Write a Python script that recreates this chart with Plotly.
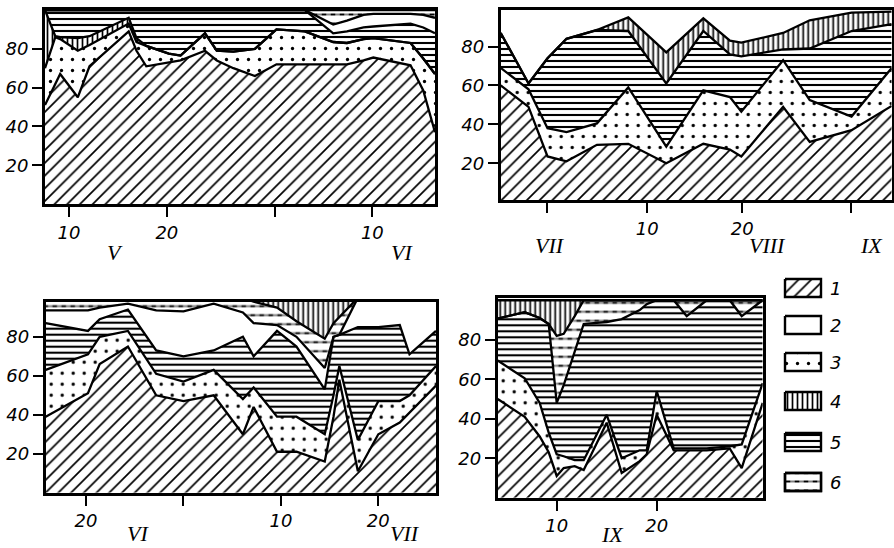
import plotly.graph_objects as go

W, H = 894, 548

# ---------------- DATA (cumulative upper boundary of each layer, %) ----------------
# Panel 1: May - June (day number, 1 VI = 32)
P1_DAYS = [7.55, 8.6, 9.1, 10.9, 12.1, 16.1, 16.9, 17.9, 20.2, 21.4, 23.9, 25.1, 26.8, 29.0,
           31.2, 34.1, 37.0, 38.4, 40.1, 41.1, 44.9, 46.2, 47.4]
P1_CUM1 = [51, 62, 67, 55, 71, 89, 79, 71, 73, 74, 79, 74, 70, 66, 72, 72, 72, 72, 74, 75.5, 71.5, 58.5, 37]
P1_CUM3 = [70, 86, 85, 79, 82, 93, 83.5, 81.5, 77.5, 76.5, 88, 79, 78.5, 80, 90, 89, 83.5, 83, 85, 85.5, 83, 75, 67]
P1_CUM4 = [100, 86.5, 86, 85.5, 86.5, 96, 85.5, 81.5, 77.5, 76.5, 88, 79, 78.5, 80, 90, 89, 83.5, 83, 85, 85.5, 83, 75, 67]
P1_CUM5 = [100, 100, 100, 100, 100, 100, 100, 100, 100, 100, 100, 100, 100, 100, 100, 100,
           88, 89, 91, 91.5, 93, 91, 88]
P1_CUM2 = [100, 100, 100, 100, 100, 100, 100, 100, 100, 100, 100, 100, 100, 100, 100, 100,
           92.5, 94.5, 97.5, 98, 98, 97.5, 96]
P1_CUM6 = [100, 100, 100, 100, 100, 100, 100, 100, 100, 100, 100, 100, 100, 100, 100, 100,
           100, 100, 100, 100, 100, 100, 100]

# Panel 2: late July - early September (day of August)
P2_DAYS = [-5.43, -2.5, -0.5, 1.5, 4.7, 8.0, 12.0, 15.9, 18.7, 19.9, 24.3, 27.1, 31.5, 35.73]
P2_CUM1 = [60, 49, 23.5, 21, 29.5, 30, 20, 30, 27, 23.5, 49, 31, 37, 49.5]
P2_CUM3 = [69, 58, 38, 36, 40.5, 59, 28.5, 57.5, 54, 46.5, 73, 52.5, 44, 69]
P2_CUM5 = [87, 61, 74, 84, 88.5, 88, 61, 88, 76, 75, 78.5, 79, 88, 91.5]
P2_CUM4 = [87, 61, 74, 84, 88.5, 95, 77, 94.5, 83, 82, 87, 93.5, 97.5, 98]
P2_CUM2 = [100, 100, 100, 100, 100, 100, 100, 100, 100, 100, 100, 100, 100, 100]

# Panel 3: June - July (day number, 1 VII = 31)
P3_DAYS = [15.86, 20.2, 21.4, 24.3, 27.2, 30.0, 33.1, 36.1, 37.2, 39.6, 41.6, 44.5, 45.4, 46.0,
           47.9, 50.0, 52.2, 53.2, 55.92]
P3_CUM1 = [39, 51, 66, 75, 50, 47, 50, 30, 44, 21, 21, 16, 39, 58, 11, 30, 36, 41, 55]
P3_CUM3 = [63, 71, 80, 83, 61, 57, 63, 48, 54, 39, 39, 30, 50, 65, 27, 47, 47, 50, 65]
P3_CUM5 = [87, 83, 89, 94, 73, 70, 73, 80, 70, 83, 75, 53, 80, 81, 85, 85, 86, 71, 83]
P3_CUM2 = [93.5, 93.5, 95, 97, 93.5, 93, 97, 92.5, 87, 86, 80, 64, 80, 81, 100, 100, 100, 100, 100]
P3_CUM6 = [100, 100, 100, 100, 100, 100, 100, 100, 98, 95, 88, 79, 87, 90, 100, 100, 100, 100, 100]
P3_CUM4 = [100, 100, 100, 100, 100, 100, 100, 100, 100, 100, 100, 100, 100, 100, 100, 100, 100, 100, 100]

# Panel 4: September (day of September)
P4_DAYS = [4.1, 6.8, 8.3, 9.2, 10.0, 10.7, 11.8, 12.7, 15.0, 16.5, 18.3, 19.0, 20.0, 21.7,
           23.0, 25.0, 27.3, 28.5, 30.6]
P4_CUM1 = [50, 41, 31, 23, 11, 15, 16, 14, 38, 12.5, 18.5, 22, 42, 24, 24, 24, 25, 15, 48]
P4_CUM3 = [69.5, 60.5, 48, 33, 22, 21, 19, 19, 42, 20, 24, 24, 54, 25, 25, 25, 26, 27, 58]
P4_CUM5 = [90.7, 94, 91, 88, 48, 57, 74, 88, 89, 90.5, 95, 98, 100, 100, 92, 100, 100, 92, 100]
P4_CUM6 = [90.7, 94, 91, 88, 82, 83, 92, 100, 100, 100, 100, 100, 100, 100, 100, 100, 100, 100, 100]
P4_CUM4 = [100, 100, 100, 100, 100, 100, 100, 100, 100, 100, 100, 100, 100, 100, 100, 100, 100, 100, 100]

Y_TICKS = [20, 40, 60, 80]
Y_TICK_TEXT = ["20", "40", "60", "80"]

P1_XTICKS, P1_XTEXT = [10, 20, 31, 41], ["10", "20", "", "10"]
P2_XTICKS, P2_XTEXT = [-0.6, 10, 20, 31.4], ["", "10", "20", ""]
P3_XTICKS, P3_XTEXT = [20, 30, 40, 50], ["20", "", "10", "20"]
P4_XTICKS, P4_XTEXT = [10, 20], ["10", "20"]

P1_MONTHS = [("V", 14.7), ("VI", 44.0)]
P2_MONTHS = [("VII", -0.24), ("VIII", 22.7), ("IX", 33.65)]
P3_MONTHS = [("VI", 25.3), ("VII", 52.7)]
P4_MONTHS = [("IX", 15.6)]

LEGEND_KEYS = ["1", "2", "3", "4", "5", "6"]

# ---------------- STYLE ----------------
PATTERN = {
    "1": dict(shape="/", size=9, solidity=0.19),
    "2": dict(shape=""),
    "3": dict(shape=".", size=11, solidity=0.07),
    "4": dict(shape="|", size=5, solidity=0.34),
    "5": dict(shape="-", size=6, solidity=0.35),
    "6": dict(shape="-", size=9, solidity=0.22),
}
DASH_CUT = dict(shape="|", size=9, solidity=0.5, fgcolor="white", bgcolor="rgba(0,0,0,0)")

TICK_FONT = dict(family="DejaVu Sans", size=18, color="black", style="italic")
MONTH_FONT = dict(family="Liberation Serif", size=22, color="black", style="italic")

def pat(key):
    p = dict(PATTERN[key])
    p.update(fgcolor="black", bgcolor="white", fillmode="replace")
    return p

fig = go.Figure()

def add_panel(i, days, stack):
    xa, ya = ("x", "y") if i == 1 else (f"x{i}", f"y{i}")
    prev = None
    for k, (key, vals) in enumerate(stack):
        fig.add_trace(go.Scatter(
            x=days, y=vals, mode="lines", line=dict(width=0, color="black"),
            fill="tozeroy" if k == 0 else "tonexty", fillcolor="white",
            fillpattern=pat(key), xaxis=xa, yaxis=ya, hoverinfo="skip"))
        if key == "6":
            fig.add_trace(go.Scatter(x=days, y=prev, mode="lines", line=dict(width=0),
                                     xaxis=xa, yaxis=ya, hoverinfo="skip"))
            fig.add_trace(go.Scatter(x=days, y=vals, mode="lines", line=dict(width=0),
                                     fill="tonexty", fillcolor="rgba(0,0,0,0)",
                                     fillpattern=DASH_CUT, xaxis=xa, yaxis=ya, hoverinfo="skip"))
        prev = vals
    for key, vals in stack:
        fig.add_trace(go.Scatter(x=days, y=vals, mode="lines",
                                 line=dict(width=2.3, color="black"),
                                 xaxis=xa, yaxis=ya, hoverinfo="skip"))

add_panel(1, P1_DAYS, [("1", P1_CUM1), ("3", P1_CUM3), ("4", P1_CUM4), ("5", P1_CUM5),
                       ("2", P1_CUM2), ("6", P1_CUM6)])
add_panel(2, P2_DAYS, [("1", P2_CUM1), ("3", P2_CUM3), ("5", P2_CUM5), ("4", P2_CUM4),
                       ("2", P2_CUM2)])
add_panel(3, P3_DAYS, [("1", P3_CUM1), ("3", P3_CUM3), ("5", P3_CUM5), ("2", P3_CUM2),
                       ("6", P3_CUM6), ("4", P3_CUM4)])
add_panel(4, P4_DAYS, [("1", P4_CUM1), ("3", P4_CUM3), ("5", P4_CUM5), ("6", P4_CUM6),
                       ("4", P4_CUM4)])

# panel geometry (pixels: left, right, top, bottom) and value ranges
GEOM = {
    1: dict(px=(45, 435), py=(10, 204), xr=(7.55, 47.4), yr=(0, 100),
            tv=P1_XTICKS, tt=P1_XTEXT, months=P1_MONTHS, my=252),
    2: dict(px=(500.7, 891.7), py=(10, 200), xr=(-5.43, 35.73), yr=(1.1, 98.8),
            tv=P2_XTICKS, tt=P2_XTEXT, months=P2_MONTHS, my=246),
    3: dict(px=(45.7, 436), py=(301.7, 492.7), xr=(15.86, 55.92), yr=(0, 98),
            tv=P3_XTICKS, tt=P3_XTEXT, months=P3_MONTHS, my=533),
    4: dict(px=(497.7, 762.7), py=(298.3, 497.7), xr=(4.1, 30.6), yr=(0, 101),
            tv=P4_XTICKS, tt=P4_XTEXT, months=P4_MONTHS, my=534),
}

axis_common = dict(showline=True, linewidth=2.8, linecolor="black", mirror=True,
                   ticks="outside", ticklen=10, tickwidth=2, tickcolor="black",
                   showgrid=False, zeroline=False, tickfont=TICK_FONT, fixedrange=True)

annotations = []
for i, g in GEOM.items():
    sx = "" if i == 1 else str(i)
    fig.layout[f"xaxis{sx}"] = dict(
        domain=[g["px"][0] / W, g["px"][1] / W], range=list(g["xr"]),
        tickvals=g["tv"], ticktext=g["tt"], anchor=f"y{sx}", **axis_common)
    fig.layout[f"yaxis{sx}"] = dict(
        domain=[1 - g["py"][1] / H, 1 - g["py"][0] / H], range=list(g["yr"]),
        tickvals=Y_TICKS, ticktext=Y_TICK_TEXT, anchor=f"x{sx}", **axis_common)
    for txt, xd in g["months"]:
        annotations.append(dict(text=txt, x=xd, y=1 - g["my"] / H, xref=f"x{sx}", yref="paper",
                                showarrow=False, font=MONTH_FONT, xanchor="center", yanchor="middle"))

# legend drawn in its own pixel-like axes
LEG_CENTERS = [288, 325, 362, 401, 442, 482]
fig.layout["xaxis5"] = dict(domain=[770 / W, 870 / W], range=[770, 870], visible=False,
                            anchor="y5", fixedrange=True)
fig.layout["yaxis5"] = dict(domain=[1 - 500 / H, 1 - 270 / H], range=[500, 270], visible=False,
                            anchor="x5", fixedrange=True)
for key, cy in zip(LEGEND_KEYS, LEG_CENTERS):
    bx = [785, 821, 821, 785, 785]
    by = [cy - 9, cy - 9, cy + 9, cy + 9, cy - 9]
    fig.add_trace(go.Scatter(x=bx, y=by, mode="lines", fill="toself", fillcolor="white",
                             fillpattern=pat(key), line=dict(color="black", width=2.4),
                             xaxis="x5", yaxis="y5", hoverinfo="skip"))
    if key == "6":
        fig.add_trace(go.Scatter(x=bx, y=by, mode="lines", fill="toself",
                                 fillcolor="rgba(0,0,0,0)", fillpattern=DASH_CUT,
                                 line=dict(width=0), xaxis="x5", yaxis="y5", hoverinfo="skip"))
        fig.add_trace(go.Scatter(x=bx, y=by, mode="lines", line=dict(color="black", width=2.4),
                                 xaxis="x5", yaxis="y5", hoverinfo="skip"))
    annotations.append(dict(text=key, x=835, y=cy, xref="x5", yref="y5", showarrow=False,
                            font=dict(family="DejaVu Sans", size=18, color="black", style="italic"),
                            xanchor="center", yanchor="middle"))

fig.update_layout(width=W, height=H, margin=dict(l=0, r=0, t=0, b=0),
                  paper_bgcolor="white", plot_bgcolor="rgba(0,0,0,0)",
                  showlegend=False, annotations=annotations)

fig.write_html("out.html")
